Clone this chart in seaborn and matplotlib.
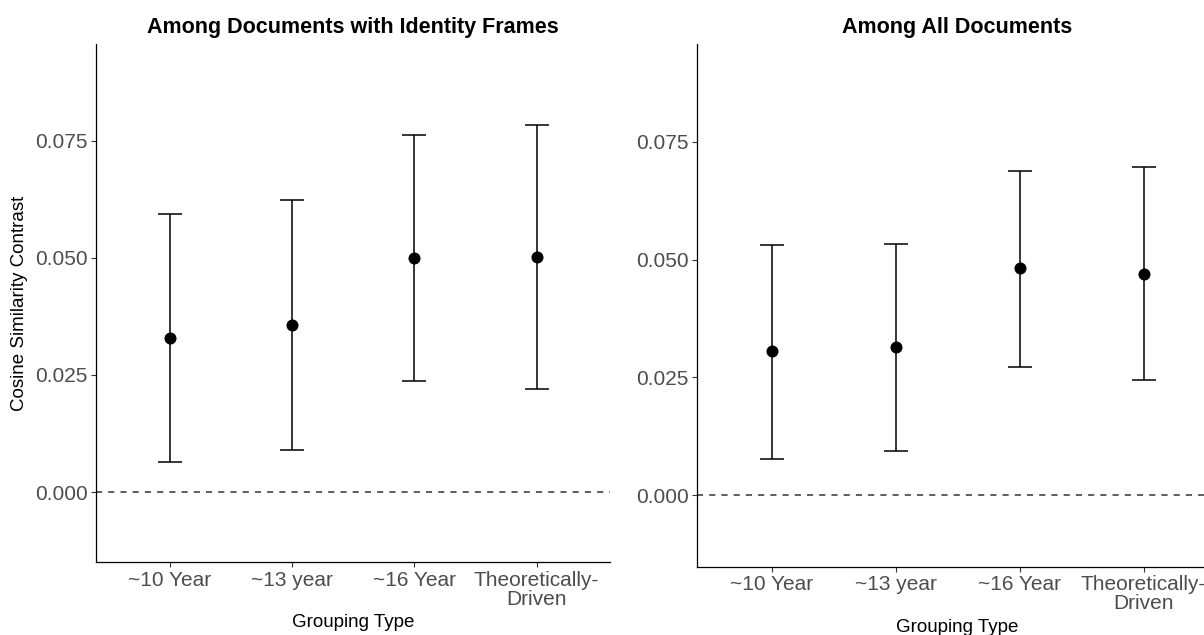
import numpy as np
import pandas as pd
import matplotlib
matplotlib.use("Agg")
import matplotlib.pyplot as plt
import seaborn as sns

# category labels on the x axis
groupings = ["~10 Year", "~13 year", "~16 Year", "Theoretically-\nDriven"]

# left panel: among documents with identity frames
identity_est = [0.0328, 0.0357, 0.0500, 0.0501]
identity_low = [0.0064, 0.0090, 0.0237, 0.0219]
identity_high = [0.0594, 0.0623, 0.0762, 0.0784]

# right panel: among all documents
all_est = [0.0305, 0.0314, 0.0481, 0.0470]
all_low = [0.0077, 0.0094, 0.0272, 0.0245]
all_high = [0.0531, 0.0534, 0.0688, 0.0696]

sns.set_theme(style="white")
plt.rcParams['font.family'] = ['Liberation Sans', 'DejaVu Sans']

fig = plt.figure(figsize=(12.04, 6.35), dpi=100)
ax1 = fig.add_axes([0.0800, 0.1145, 0.4267, 0.8157])
ax2 = fig.add_axes([0.5791, 0.1076, 0.4325, 0.8227])


def draw_panel(ax, est, low, high, title, ylim, ylabel):
    df = pd.DataFrame({"group": groupings, "est": est, "low": low, "high": high})
    pos = np.arange(len(df))
    ax.axhline(0, color="#333333", lw=1.1, ls=(0, (4, 4)), zorder=1)
    ax.errorbar(pos, df["est"], yerr=[df["est"] - df["low"], df["high"] - df["est"]],
                fmt="none", ecolor="black", elinewidth=1.1, capsize=8.8, capthick=1.1, zorder=2)
    sns.scatterplot(x=pos, y=df["est"], ax=ax, color="black", s=75, edgecolor="black",
                    linewidth=0, zorder=3, legend=False)
    ax.set_xlim(-0.6, 3.6)
    ax.set_ylim(*ylim)
    ax.set_xticks(pos)
    ax.set_xticklabels(df["group"], linespacing=1.0)
    ax.set_yticks([0.0, 0.025, 0.05, 0.075])
    ax.set_yticklabels(["0.000", "0.025", "0.050", "0.075"])
    ax.tick_params(axis="both", labelsize=15, labelcolor="#4D4D4D", color="#333333",
                   length=3.5, width=0.8, direction="out", left=True, bottom=True, pad=2.5)
    for side in ["top", "right"]:
        ax.spines[side].set_visible(False)
    for side in ["left", "bottom"]:
        ax.spines[side].set_color("black")
        ax.spines[side].set_linewidth(0.9)
    ax.set_title(title, fontsize=15.5, fontweight="bold", color="black", pad=8)
    ax.set_xlabel("Grouping Type", fontsize=13.5, color="black", labelpad=4)
    ax.set_ylabel(ylabel, fontsize=13.5, color="black", labelpad=5)


draw_panel(ax1, identity_est, identity_low, identity_high,
           "Among Documents with Identity Frames", (-0.0150, 0.0956),
           "Cosine Similarity Contrast")
draw_panel(ax2, all_est, all_low, all_high,
           "Among All Documents", (-0.0152, 0.0957), "")

fig.savefig("out.png", dpi=100)
